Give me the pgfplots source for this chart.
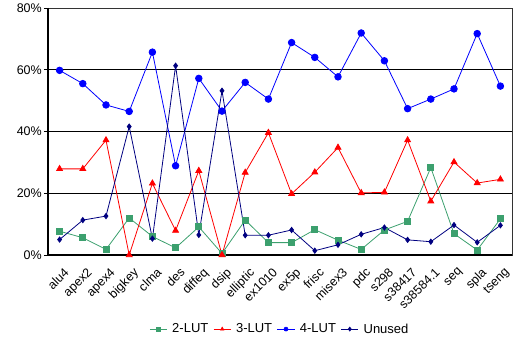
\documentclass[border=0pt]{standalone}
\usepackage{pgfplots}
\pgfplotsset{compat=1.18}
\usepackage{fontspec}
\setmainfont{Liberation Sans}
\definecolor{lutgreen}{RGB}{60,160,110}
\definecolor{lutnavy}{RGB}{0,0,128}
\begin{document}
\begin{tikzpicture}
\begin{axis}[
  name=ax,
  scale only axis,
  width=464pt, height=247pt,
  xmin=-0.5, xmax=19.5, ymin=0, ymax=80,
  xtick={0,...,19},
  xticklabels={alu4,apex2,apex4,bigkey,clma,des,diffeq,dsip,elliptic,ex1010,ex5p,frisc,misex3,pdc,s298,s38417,s38584.1,seq,spla,tseng},
  x tick label style={rotate=45, anchor=north east, inner sep=0pt, xshift=-3pt, yshift=-8pt, font=\fontsize{12.5}{13}\selectfont},
  major x tick style={draw=none},
  ytick={0,20,40,60,80},
  yticklabel={\pgfmathprintnumber{\tick}\%},
  /pgf/number format/assume math mode=true,
  y tick label style={font=\fontsize{12.5}{13}\selectfont, inner sep=2pt},
  ymajorgrids, grid style={black, line width=0.6pt},
  major y tick style={black, line width=0.6pt},
  tick align=outside, major tick length=4pt,
  axis line style={draw=black!80, line width=0.8pt},
  legend style={draw=none, at={(0.5,-0.3)}, anchor=center, legend columns=4, font=\fontsize{13}{14}\selectfont, column sep=3pt, inner sep=0pt},
  legend image post style={line width=0.6pt, mark size=2pt},
  legend cell align=left,
  clip=false,
]
\addplot[lutgreen, mark=square*, mark size=3pt, line width=0.8pt] coordinates {
(0,7.7)(1,5.6)(2,1.8)(3,12.0)(4,6.0)(5,2.3)(6,9.1)(7,0.5)(8,11.3)(9,4.0)
(10,4.0)(11,8.2)(12,4.8)(13,1.8)(14,8.1)(15,10.9)(16,28.3)(17,6.9)(18,1.6)(19,11.7)};
\addlegendentry{2-LUT}
\addplot[red, mark=triangle*, mark size=3.4pt, line width=0.8pt] coordinates {
(0,27.9)(1,27.9)(2,37.2)(3,0)(4,23.2)(5,7.9)(6,27.3)(7,0)(8,26.7)(9,39.6)
(10,19.8)(11,26.8)(12,34.8)(13,20.1)(14,20.3)(15,37.2)(16,17.4)(17,30.1)(18,23.3)(19,24.5)};
\addlegendentry{3-LUT}
\addplot[blue, mark=*, mark size=3.3pt, line width=0.8pt] coordinates {
(0,59.8)(1,55.5)(2,48.6)(3,46.5)(4,65.7)(5,28.9)(6,57.2)(7,46.6)(8,55.9)(9,50.5)
(10,68.8)(11,64.0)(12,57.7)(13,71.9)(14,62.9)(15,47.4)(16,50.5)(17,53.8)(18,71.7)(19,54.7)};
\addlegendentry{4-LUT}
\addplot[lutnavy, mark=diamond*, mark size=2.6pt, line width=0.8pt] coordinates {
(0,5.0)(1,11.3)(2,12.6)(3,41.6)(4,5.3)(5,61.3)(6,6.5)(7,53.2)(8,6.4)(9,6.4)
(10,8.1)(11,1.4)(12,3.3)(13,6.7)(14,8.9)(15,4.9)(16,4.3)(17,9.7)(18,4.1)(19,9.6)};
\addlegendentry{Unused}
\draw[black, line width=1.6pt] (rel axis cs:0,1) -- (rel axis cs:0,0) -- (rel axis cs:1,0);
\end{axis}
\pgfresetboundingbox
\path ([xshift=-48pt,yshift=-86pt]ax.south west) rectangle ([xshift=1pt,yshift=8pt]ax.north east);
\end{tikzpicture}
\end{document}
